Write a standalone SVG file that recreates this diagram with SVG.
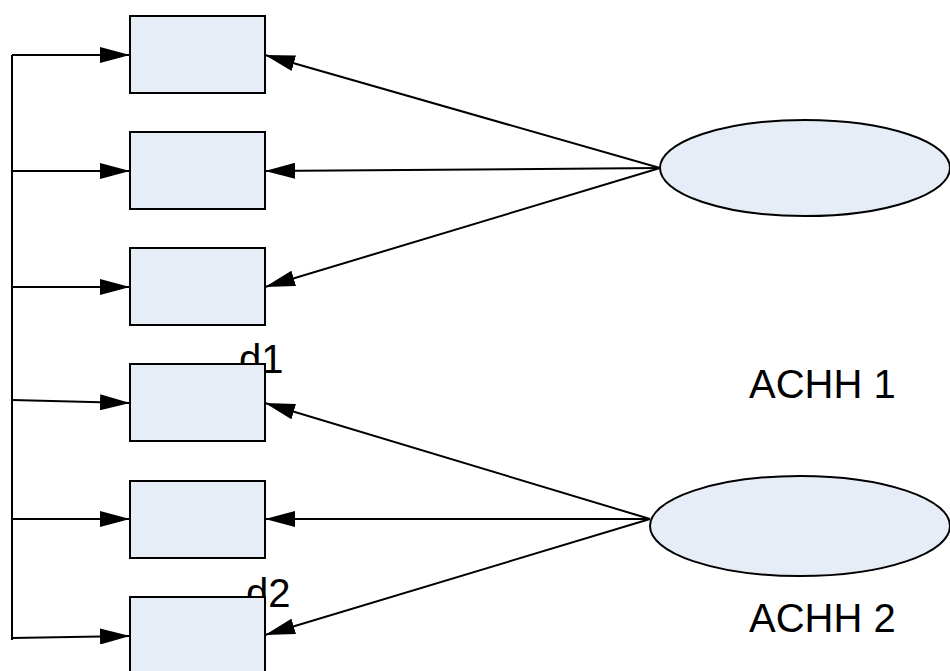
<svg xmlns="http://www.w3.org/2000/svg" width="950" height="671" viewBox="0 0 950 671">
<defs>
<marker id="ah" markerWidth="30" markerHeight="16" refX="30" refY="8" orient="auto" markerUnits="userSpaceOnUse">
<path d="M0,0 L30,8 L0,16 Z" fill="#000"/>
</marker>
<style>
.box{fill:#e6edf7;stroke:#000;stroke-width:2}
.ell{fill:#e6edf7;stroke:#000;stroke-width:2}
.con{stroke:#000;stroke-width:2;fill:none}
.arr{stroke:#000;stroke-width:2;fill:none;marker-end:url(#ah)}
.lbl{font-family:"Liberation Sans",Arial,sans-serif;fill:#000;font-size:40px}
</style>
</defs>
<rect width="950" height="671" fill="#fff"/>
<g id="connectors">
<path class="con" d="M12,55 V640"/>
<path class="arr" d="M12,55 H130"/>
<path class="arr" d="M12,171 H130"/>
<path class="arr" d="M12,287 H130"/>
<path class="arr" d="M12,400 L130,403"/>
<path class="arr" d="M12,519 H130"/>
<path class="arr" d="M12,638 L130,636"/>
<path class="arr" d="M660,168 L265,55"/>
<path class="arr" d="M660,168 L265,171"/>
<path class="arr" d="M660,168 L265,287"/>
<path class="arr" d="M650,519 L265,403"/>
<path class="arr" d="M650,519 L265,519"/>
<path class="arr" d="M650,519 L265,635"/>
</g>
<g id="d1"><text class="lbl" x="239" y="373">d1</text></g>
<g id="d2"><text class="lbl" x="246" y="607">d2</text></g>
<g id="box1"><rect class="box" x="130" y="16" width="135" height="77"/></g>
<g id="box2"><rect class="box" x="130" y="132" width="135" height="77"/></g>
<g id="box3"><rect class="box" x="130" y="248" width="135" height="77"/></g>
<g id="box4"><rect class="box" x="130" y="364" width="135" height="77"/></g>
<g id="box5"><rect class="box" x="130" y="481" width="135" height="77"/></g>
<g id="box6"><rect class="box" x="130" y="597" width="135" height="90"/></g>
<g id="achh1"><ellipse class="ell" cx="805" cy="168" rx="145" ry="48"/><text class="lbl" x="749" y="398">ACHH 1</text></g>
<g id="achh2"><ellipse class="ell" cx="800" cy="526" rx="150" ry="50"/><text class="lbl" x="749" y="632">ACHH 2</text></g>
</svg>
